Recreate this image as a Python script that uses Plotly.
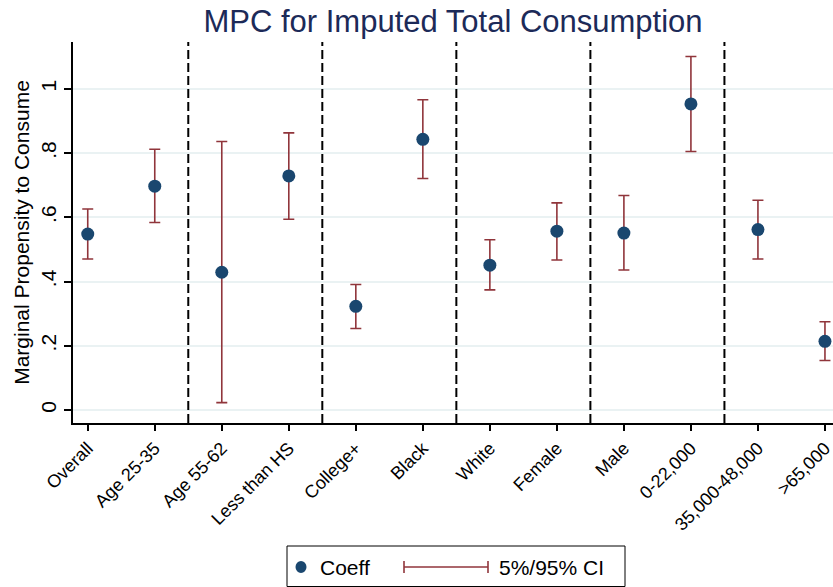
import plotly.graph_objects as go

categories = ["Overall", "Age 25-35", "Age 55-62", "Less than HS", "College+",
              "Black", "White", "Female", "Male", "0-22,000", "35,000-48,000", ">65,000"]
coeff = [0.548, 0.697, 0.429, 0.729, 0.323, 0.843, 0.451, 0.557, 0.551, 0.953, 0.562, 0.214]
ci_upper = [0.626, 0.812, 0.836, 0.863, 0.391, 0.966, 0.530, 0.645, 0.668, 1.101, 0.653, 0.275]
ci_lower = [0.470, 0.584, 0.023, 0.594, 0.254, 0.721, 0.374, 0.467, 0.436, 0.805, 0.470, 0.154]
group_breaks = [1.5, 3.5, 5.5, 7.5, 9.5]
y_ticks = [0, 0.2, 0.4, 0.6, 0.8, 1.0]
y_tick_labels = ["0", ".2", ".4", ".6", ".8", "1"]

NAVY = "#1a476f"
MAROON = "#90353b"
FONT = "Liberation Sans"

FIG_W, FIG_H = 833, 587
L, T, H, W = 73, 42, 381, 760

xpos = list(range(len(categories)))
fig = go.Figure()
fig.add_trace(go.Scatter(
    x=xpos, y=coeff, mode="markers",
    marker=dict(color=NAVY, size=13),
    error_y=dict(type="data", symmetric=False,
                 array=[u - c for u, c in zip(ci_upper, coeff)],
                 arrayminus=[c - l for c, l in zip(coeff, ci_lower)],
                 color=MAROON, thickness=1.6, width=5.5),
    showlegend=False, cliponaxis=False,
))

for b in group_breaks:
    fig.add_shape(type="line", xref="x", yref="paper", x0=b, x1=b, y0=0, y1=1,
                  line=dict(color="black", width=2, dash="9px,4px"), layer="above")

def px(x):
    return (x - L) / W
def py(y):
    return (T + H - y) / H

# Legend (custom drawn to mimic Stata legend box)
fig.add_shape(type="rect", xref="paper", yref="paper",
              x0=px(287), x1=px(625), y0=py(586.5), y1=py(546),
              line=dict(color="black", width=1), fillcolor="white")
fig.add_shape(type="circle", xref="paper", yref="paper", xsizemode="pixel", ysizemode="pixel",
              xanchor=px(301), yanchor=py(567), x0=-5.5, x1=5.5, y0=-6, y1=6,
              fillcolor=NAVY, line=dict(color=NAVY, width=0))
fig.add_shape(type="line", xref="paper", yref="paper",
              x0=px(404), x1=px(488), y0=py(567), y1=py(567),
              line=dict(color=MAROON, width=1.6))
for xx in (404, 488):
    fig.add_shape(type="line", xref="paper", yref="paper", ysizemode="pixel",
                  x0=px(xx), x1=px(xx), yanchor=py(567), y0=-6, y1=6,
                  line=dict(color=MAROON, width=1.6))
fig.add_annotation(xref="paper", yref="paper", x=px(318), y=py(567), text="Coeff",
                   showarrow=False, xanchor="left", yanchor="middle",
                   font=dict(family=FONT, size=21, color="black"))
fig.add_annotation(xref="paper", yref="paper", x=px(497), y=py(567), text="5%/95% CI",
                   showarrow=False, xanchor="left", yanchor="middle",
                   font=dict(family=FONT, size=21, color="black"))

fig.update_layout(
    width=FIG_W, height=FIG_H,
    margin=dict(l=L, r=FIG_W - L - W, t=T, b=FIG_H - T - H, autoexpand=False),
    paper_bgcolor="white", plot_bgcolor="white",
    font=dict(family=FONT, color="black"),
    title=dict(text="MPC for Imputed Total Consumption", x=(L + W / 2) / FIG_W, xanchor="center",
               y=1 - 21 / FIG_H, yanchor="middle",
               font=dict(family=FONT, size=31, color="#1c2a58")),
)
fig.update_xaxes(
    range=[-0.22, 11.12], tickmode="array", tickvals=xpos, ticktext=categories,
    tickangle=-45, tickfont=dict(family=FONT, size=18, color="black"),
    showgrid=False, zeroline=False, showline=True, linecolor="black", linewidth=1.5,
    ticks="outside", ticklen=6, tickcolor="black", tickwidth=1.5, automargin=False,
    ticklabeloverflow="allow",
)
fig.update_yaxes(
    range=[-0.0405, 1.146], tickmode="array", tickvals=y_ticks, ticktext=y_tick_labels,
    tickangle=-90, tickfont=dict(family=FONT, size=21, color="black"),
    showgrid=True, gridcolor="#eaf2f3", gridwidth=1.5, zeroline=False,
    showline=True, linecolor="black", linewidth=1.5,
    ticks="outside", ticklen=7, tickcolor="black", tickwidth=1.5, automargin=False,
    title=dict(text="Marginal Propensity to Consume", standoff=1,
               font=dict(family=FONT, size=21, color="black")),
)

fig.write_html(
    "out.html",
    config={"displayModeBar": False},
    post_script="document.body.style.margin='0';document.body.style.overflow='hidden';",
)
